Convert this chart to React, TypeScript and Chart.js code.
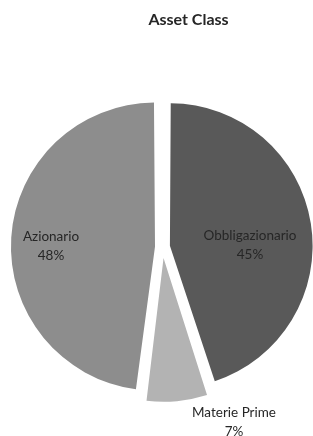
import React, { useEffect, useRef } from "react";
import { Chart, registerables } from "chart.js";

Chart.register(...registerables);

const titleText = "Asset Class";
const categories = ["Obbligazionario", "Materie Prime", "Azionario"];
const values = [45, 7, 48];
const percentLabels = ["45%", "7%", "48%"];

const colors = ["#595959", "#b3b3b3", "#8d8d8d"];
// Chart.js draws arcs shifted by offset/4 pixels
const offsets = [30, 44, 30];
// label centre relative to pie centre (style only)
const labelShift: [number, number][] = [
  [87.5, -2],
  [71.5, 175],
  [-111.5, -1],
];

const labelPlugin = {
  id: "sliceLabels",
  afterDatasetsDraw(chart: any) {
    const { ctx } = chart;
    const meta = chart.getDatasetMeta(0);
    ctx.save();
    ctx.fillStyle = "#262626";
    ctx.textAlign = "center";
    ctx.textBaseline = "middle";
    ctx.font = "13.5px Lato";
    meta.data.forEach((arc: any, i: number) => {
      const [dx, dy] = labelShift[i];
      const x = arc.x + dx;
      const y = arc.y + dy;
      ctx.fillText(categories[i], x, y - 9);
      ctx.fillText(percentLabels[i], x, y + 10);
    });
    ctx.font = "bold 16px Lato";
    ctx.fillStyle = "#262626";
    ctx.fillText(titleText, 188.5, 20);
    ctx.restore();
  },
};

export default function App() {
  const ref = useRef<HTMLCanvasElement>(null);
  useEffect(() => {
    const chart = new Chart(ref.current!, {
      type: "pie",
      data: {
        labels: categories,
        datasets: [
          {
            data: values,
            backgroundColor: colors,
            borderWidth: 0,
            offset: offsets,
            hoverOffset: 0,
            clip: false,
          } as any,
        ],
      },
      options: {
        animation: false,
        responsive: false,
        radius: 137.5,
        layout: { padding: { left: 12, right: 0, top: 58, bottom: 0 } },
        plugins: {
          legend: { display: false },
          title: { display: false },
          tooltip: { enabled: false },
        },
        events: [],
      } as any,
      plugins: [labelPlugin],
    });
    return () => chart.destroy();
  }, []);
  return (
    <div style={{ position: "fixed", left: 0, top: 0, width: 313, height: 436, background: "#fff" }}>
      <canvas ref={ref} width={313} height={436} />
    </div>
  );
}
